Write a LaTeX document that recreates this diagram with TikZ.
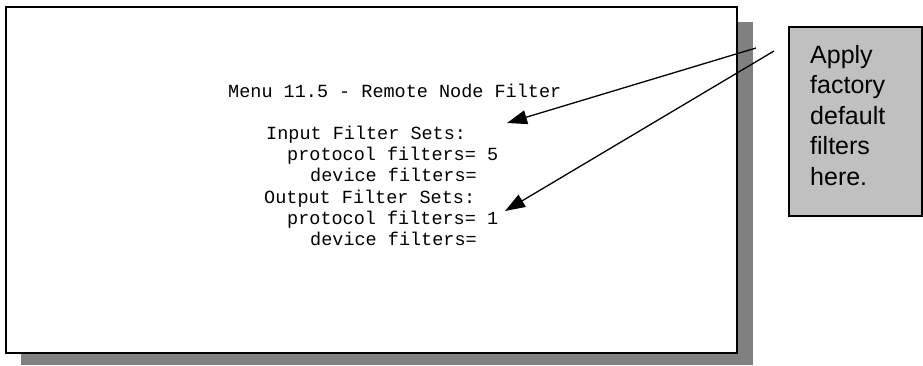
\documentclass[tikz,border=0pt]{standalone}
\usepackage{fontspec}
\setmainfont{Liberation Sans}
\setmonofont{Liberation Mono}
\usetikzlibrary{arrows.meta}
\definecolor{shadowgray}{HTML}{808080}
\definecolor{notegray}{HTML}{C0C0C0}

\begin{document}
\begin{tikzpicture}[x=1pt,y=-1pt,
    menuline/.style={anchor=base west,inner sep=0pt,font=\ttfamily\fontsize{18.5}{21}\selectfont},
    pointer/.style={line width=1.3pt,-{Triangle[length=20pt,width=14pt]}}]
\useasboundingbox (0,0) rectangle (923,365);

% screen with its shadow
\fill[shadowgray] (21,22) rectangle (753,365);
\draw[line width=2pt,fill=white] (6,7) rectangle (737,353);

% menu text
\node[menuline] (title)   at (228,97)  {Menu 11.5 - Remote Node Filter};
\node[menuline] (inset)   at (266,139) {Input Filter Sets:};
\node[menuline] (inprot)  at (287,160) {protocol filters= 5};
\node[menuline] (indev)   at (310,181.5) {device filters=};
\node[menuline] (outset)  at (264,203) {Output Filter Sets:};
\node[menuline] (outprot) at (287,224) {protocol filters= 1};
\node[menuline] (outdev)  at (310,245) {device filters=};

% callout
\draw[line width=1.5pt,fill=notegray] (789,27) rectangle (922,216);
\node[anchor=north west,inner sep=0pt,align=left,
      font=\fontsize{25}{30.5}\selectfont] (note) at (810,45)
  {Apply\\factory\\default\\filters\\here.};

% pointers
\coordinate (from1) at (756,48);
\coordinate (from2) at (774,51);
\coordinate (to1) at (507,123);
\coordinate (to2) at (505,211);
\draw[pointer] (from1) -- (to1);
\draw[pointer] (from2) -- (to2);
\end{tikzpicture}
\end{document}
